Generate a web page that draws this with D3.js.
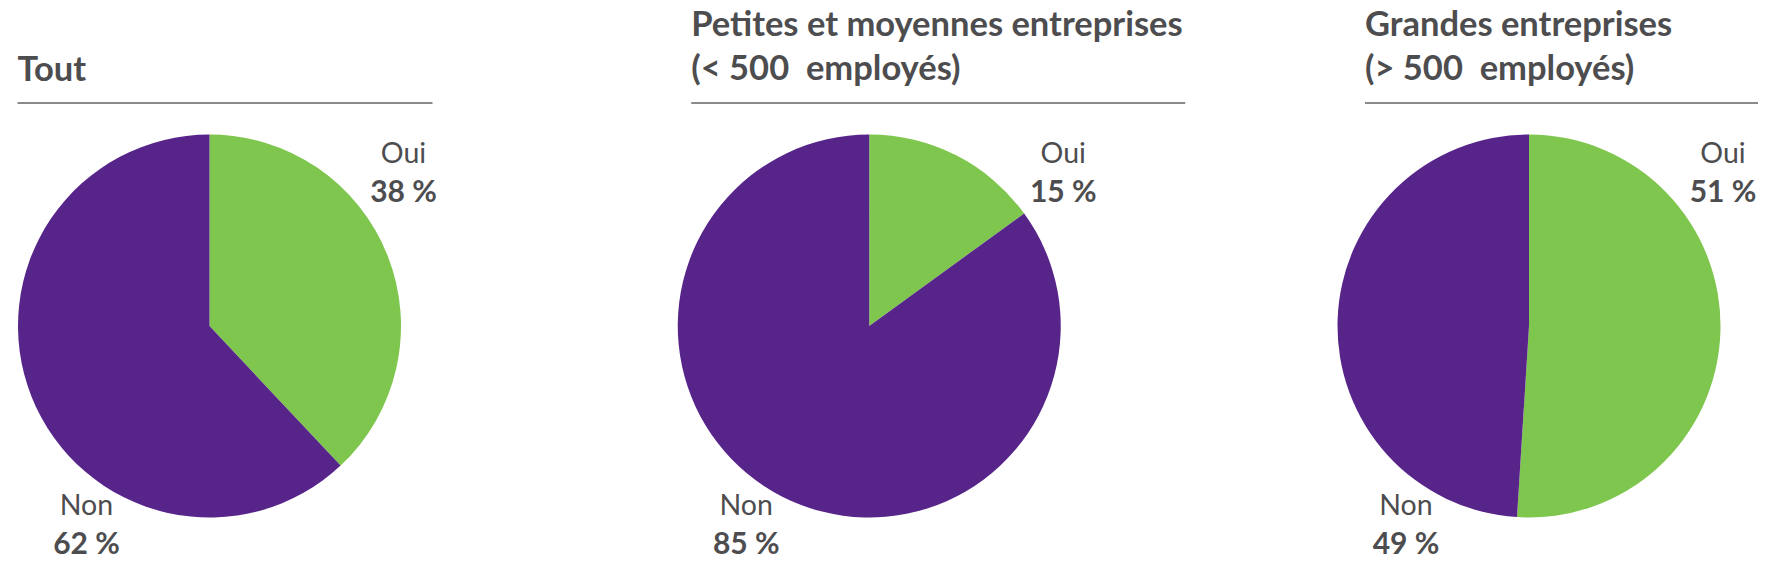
<!DOCTYPE html>
<html>
<head>
<meta charset="utf-8">
<script src="https://cdn.jsdelivr.net/npm/d3@7"></script>
<style>
  body { margin: 0; background: #fff; }
  text { font-family: "Lato", "Open Sans", sans-serif; fill: #4d4d4f; }
</style>
</head>
<body>
<script>
var width = 1773,
  height = 568;

// data
var panels = ["Tout", "PME", "Grandes"];
var titles = [
  ["Tout"],
  ["Petites et moyennes entreprises", "(< 500  employés)"],
  ["Grandes entreprises", "(> 500  employés)"]
];
var categories = ["Oui", "Non"];
var ouiValues = [38, 15, 51];
var nonValues = [62, 85, 49];

// layout of the heading blocks (offsets from pie centre)
var titleLeft = [-192, -178, -164];
var ruleRight = [223, 316, 229];

var radius = 191.5,
  cy = 326;

var color = d3.scaleOrdinal()
  .domain(categories)
  .range(["#7ec64e", "#57248a"]);

var x = d3.scalePoint()
  .domain(panels)
  .range([209.5, 1529]);

var pie = d3.pie()
  .sort(null)
  .value(function(d) { return d.value; });

var arc = d3.arc()
  .innerRadius(0)
  .outerRadius(radius);

var svg = d3.select("body").append("svg")
  .attr("width", width)
  .attr("height", height);

panels.forEach(function(p, i) {
  var cx = x(p);
  var g = svg.append("g");

  // heading
  var lines = titles[i];
  var t = g.append("text")
    .attr("x", cx + titleLeft[i])
    .attr("font-size", "34.5px")
    .attr("font-weight", "bold");
  lines.forEach(function(l, j) {
    t.append("tspan")
      .attr("x", cx + titleLeft[i])
      .attr("y", lines.length === 1 ? 81 : 36 + j * 44)
      .style("white-space", "pre")
      .text(l);
  });

  g.append("line")
    .attr("x1", cx + titleLeft[i])
    .attr("x2", cx + ruleRight[i])
    .attr("y1", 103)
    .attr("y2", 103)
    .attr("stroke", "#8a8a8a")
    .attr("stroke-width", 2);

  var data = [
    { key: "Oui", value: ouiValues[i] },
    { key: "Non", value: nonValues[i] }
  ];

  var pg = g.append("g")
    .attr("transform", "translate(" + cx + "," + cy + ")");

  pg.selectAll("path")
    .data(pie(data))
    .enter().append("path")
      .attr("d", arc)
      .attr("fill", function(d) { return color(d.data.key); });

  // labels
  var labelPos = {
    Oui: { dx: 194, y: 163 },
    Non: { dx: -123, y: 515 }
  };

  data.forEach(function(d) {
    var lp = labelPos[d.key];
    var lt = g.append("text")
      .attr("text-anchor", "middle")
      .attr("font-size", "28.5px");
    lt.append("tspan")
      .attr("x", cx + lp.dx)
      .attr("y", lp.y)
      .text(d.key);
    lt.append("tspan")
      .attr("x", cx + lp.dx)
      .attr("y", lp.y + 39)
      .attr("font-size", "30px")
      .attr("font-weight", "bold")
      .text(d.value + " %");
  });
});
</script>
</body>
</html>
